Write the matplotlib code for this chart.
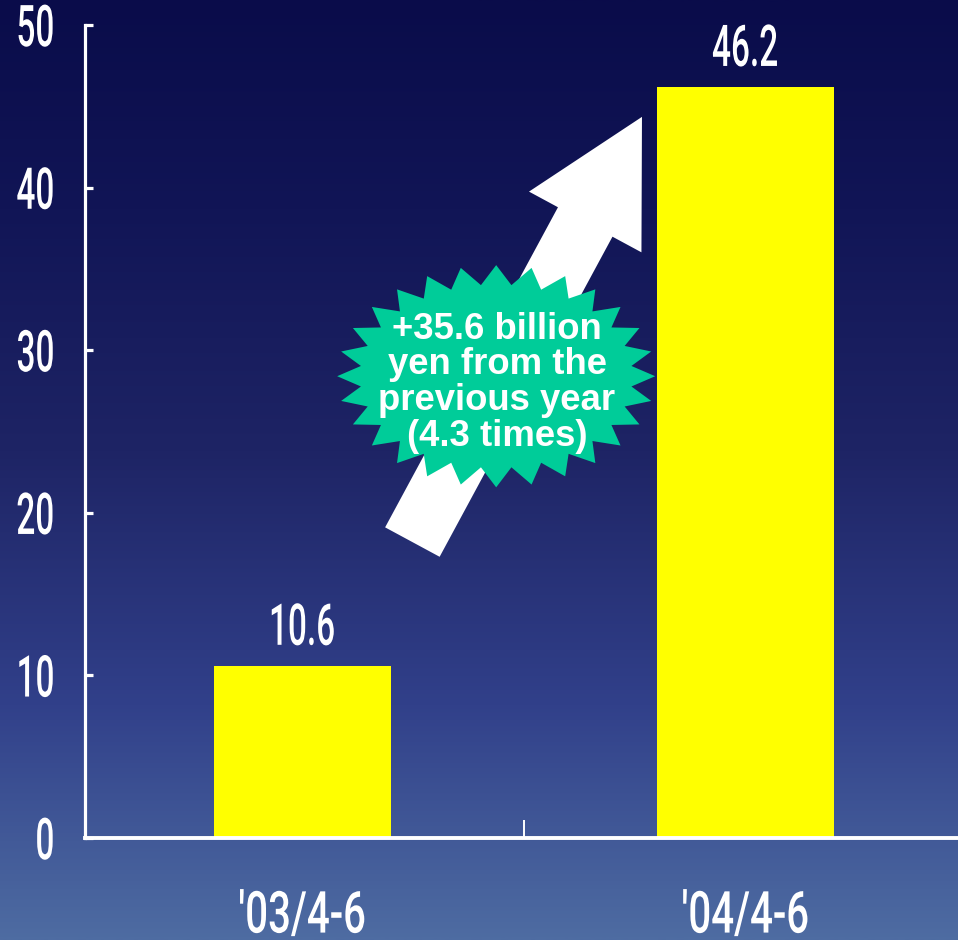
import numpy as np
import matplotlib
matplotlib.use("Agg")
import matplotlib.pyplot as plt
from matplotlib import patheffects
from matplotlib.transforms import Affine2D, ScaledTranslation
from matplotlib.patches import Polygon, FancyArrow
from matplotlib.colors import LinearSegmentedColormap

# Quarterly figures, billion yen
periods = ["'03/4-6", "'04/4-6"]
profit = [10.6, 46.2]
y_ticks = [0, 10, 20, 30, 40, 50]
callout = "+35.6 billion\nyen from the\nprevious year\n(4.3 times)"

WHITE = "#ffffff"
BAR = "#ffff00"
BURST = "#00cc99"
NUM_FONT = "Roboto"
NUM_WEIGHT = "medium"
NUM_SIZE = 24
NUM_STRETCH = 1.73
CAT_SIZE = 29
CAT_STRETCH = 1.44


class Stretch(patheffects.AbstractPathEffect):
    """Draw the glyphs taller than normal, giving a tall narrow face."""

    def __init__(self, sy, anchor="baseline"):
        super().__init__()
        self.sy = sy
        self.anchor = anchor

    def draw_path(self, renderer, gc, tpath, affine, rgbFace=None):
        if self.anchor == "center":
            ext = tpath.get_extents()
            cy = 0.5 * (ext.y0 + ext.y1)
        else:
            cy = 0.0
        tall = Affine2D().translate(0, -cy).scale(1, self.sy).translate(0, cy)
        renderer.draw_path(gc, tpath, tall + affine, rgbFace)


fig = plt.figure(figsize=(9.58, 9.40), dpi=100)

# vertical night-blue gradient behind everything
bg = fig.add_axes([0, 0, 1, 1], zorder=-10)
bg.axis("off")
night = LinearSegmentedColormap.from_list(
    "night",
    [(0.0, "#0a0c4a"), (0.22, "#111556"), (0.48, "#1e2465"),
     (0.75, "#31408a"), (1.0, "#4e6ca2")])
bg.imshow(np.linspace(0, 1, 512).reshape(-1, 1), aspect="auto", cmap=night,
          extent=[0, 1, 0, 1], origin="upper")

ax = fig.add_axes([85 / 958, 102 / 940, 873 / 958, 813 / 940])
ax.patch.set_visible(False)

x = np.arange(len(periods))
ax.bar(x, profit, width=0.4, color=BAR, zorder=2)

ax.set_xlim(-0.49, 1.48)
ax.set_ylim(0, 50)

for side in ("top", "right"):
    ax.spines[side].set_visible(False)
ax.spines["left"].set_color(WHITE)
ax.spines["left"].set_linewidth(2.3)
ax.spines["bottom"].set_color(WHITE)
ax.spines["bottom"].set_linewidth(2.8)

ax.set_yticks(y_ticks)
ax.tick_params(axis="y", direction="in", length=6, width=2.3, colors=WHITE,
               pad=22)
ax.set_xticks(x, periods)
ax.tick_params(axis="x", which="major", length=0, colors=WHITE, pad=46.5)
ax.set_xticks([0.5], minor=True)
ax.tick_params(axis="x", which="minor", direction="in", length=13, width=1.4,
               color=WHITE)

for lab in ax.get_yticklabels():
    lab.set_fontfamily(NUM_FONT)
    lab.set_fontsize(NUM_SIZE)
    lab.set_fontweight(NUM_WEIGHT)
    lab.set_path_effects([Stretch(NUM_STRETCH, "center")])
for lab in ax.get_xticklabels():
    lab.set_fontfamily(NUM_FONT)
    lab.set_fontsize(CAT_SIZE)
    lab.set_fontweight(NUM_WEIGHT)
    lab.set_path_effects([Stretch(CAT_STRETCH, "baseline")])

# value labels above bars
for xi, v in zip(x, profit):
    ax.annotate(f"{v}", (xi, v), xytext=(0, 15), textcoords="offset points",
                ha="center", va="baseline", color=WHITE, fontsize=NUM_SIZE,
                fontweight=NUM_WEIGHT, fontfamily=NUM_FONT,
                path_effects=[Stretch(NUM_STRETCH)], zorder=5)


# shapes laid out in points around an anchor given in axes fraction
def anchored(px, py):
    return (Affine2D().scale(1 / 72) + fig.dpi_scale_trans
            + ScaledTranslation(px, py, ax.transAxes))


# big white arrow rising toward the second bar
tail = (0.375, 0.364)
tip = (0.638, 0.887)
d = (ax.transAxes.transform(tip) - ax.transAxes.transform(tail)) * 72 / fig.dpi
arrow = FancyArrow(0, 0, d[0], d[1], width=44.6, head_width=92,
                   head_length=86, length_includes_head=True,
                   facecolor=WHITE, edgecolor="none",
                   transform=anchored(*tail), zorder=3)
ax.add_patch(arrow)

# spiky green callout
n_points = 28
theta = np.linspace(0, 2 * np.pi, 2 * n_points, endpoint=False)
is_tip = np.arange(2 * n_points) % 2 == 0
rx = np.where(is_tip, 114.5, 98.0)
ry = np.where(is_tip, 80.0, 66.0)
star_xy = np.column_stack([rx * np.cos(theta), ry * np.sin(theta)])
centre = (0.471, 0.568)
ax.add_patch(Polygon(star_xy, closed=True, facecolor=BURST, edgecolor="none",
                     transform=anchored(*centre), zorder=4))

ax.text(0.472, 0.560, callout, transform=ax.transAxes, ha="center",
        va="center", multialignment="center", color=WHITE, fontsize=26.3,
        fontweight="bold", fontfamily="Liberation Sans", linespacing=1.02,
        zorder=5)

fig.savefig("out.png", dpi=100)
